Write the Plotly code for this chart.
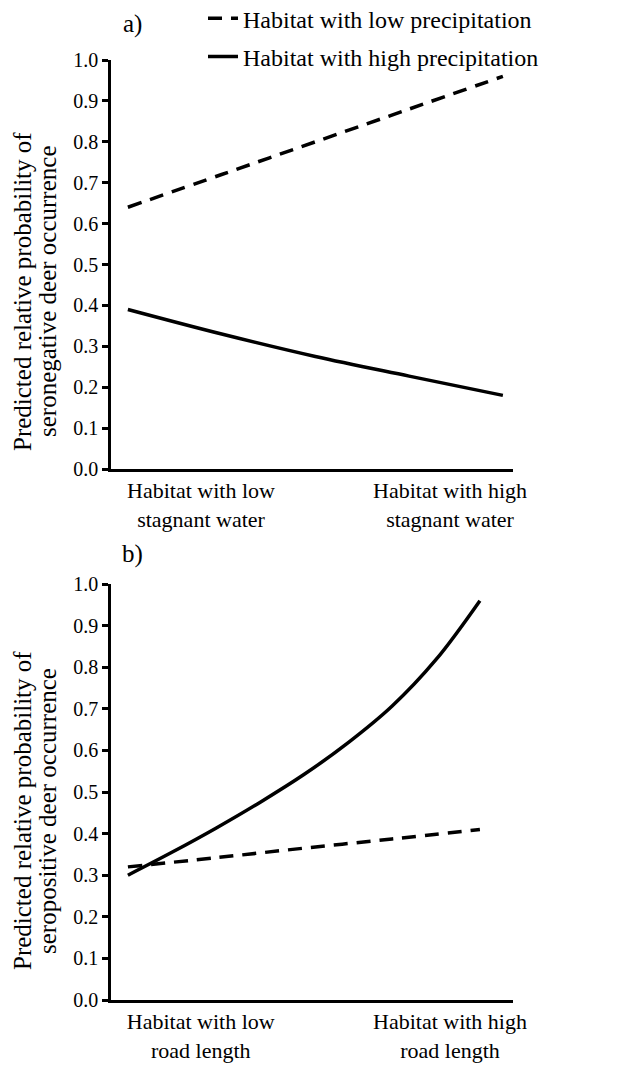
import plotly.graph_objects as go

# relative position along the habitat gradient (low -> high)
gradient = [0, 0.25, 0.5, 0.75, 1]
gradient_fine = [0, 0.125, 0.25, 0.375, 0.5, 0.625, 0.75, 0.875, 1]

# a) seronegative deer vs stagnant water
neg_low_precip = [0.64, 0.72, 0.80, 0.88, 0.96]
neg_high_precip = [0.39, 0.33, 0.275, 0.227, 0.18]

# b) seropositive deer vs road length
pos_low_precip = [0.32, 0.342, 0.365, 0.387, 0.41]
pos_high_precip = [0.30, 0.355, 0.413, 0.475, 0.542, 0.618, 0.706, 0.818, 0.96]

yticks = [0.0, 0.1, 0.2, 0.3, 0.4, 0.5, 0.6, 0.7, 0.8, 0.9, 1.0]
water_labels = ["Habitat with low<br>stagnant water", "Habitat with high<br>stagnant water"]
road_labels = ["Habitat with low<br>road length", "Habitat with high<br>road length"]
title_line1 = "Predicted relative probability of"
title_neg = "seronegative deer occurrence"
title_pos = "seropositive deer occurrence"

FONT = "Liberation Serif"
dash_style = "14px,9px"
H = 1074
W = 625

fig = go.Figure()
fig.add_trace(go.Scatter(x=gradient, y=neg_low_precip, mode="lines", line_shape="spline",
                         line=dict(color="black", width=3.5, dash=dash_style),
                         name="Habitat with low precipitation", legendgroup="low",
                         xaxis="x", yaxis="y"))
fig.add_trace(go.Scatter(x=gradient, y=neg_high_precip, mode="lines", line_shape="spline",
                         line=dict(color="black", width=3.5),
                         name="Habitat with high precipitation", legendgroup="high",
                         xaxis="x", yaxis="y"))
fig.add_trace(go.Scatter(x=gradient, y=pos_low_precip, mode="lines", line_shape="spline",
                         line=dict(color="black", width=3.5, dash=dash_style),
                         showlegend=False, xaxis="x2", yaxis="y2"))
fig.add_trace(go.Scatter(x=gradient_fine, y=pos_high_precip, mode="lines", line_shape="spline",
                         line=dict(color="black", width=3.5),
                         showlegend=False, xaxis="x2", yaxis="y2"))

xaxis_common = dict(showline=True, linecolor="black", linewidth=2.5,
                    showgrid=False, zeroline=False, ticks="",
                    tickfont=dict(family=FONT, size=22, color="black"))
yaxis_common = dict(range=[0, 1.0], showline=True, linecolor="black", linewidth=2.5,
                    showgrid=False, zeroline=False, ticks="outside", ticklen=6,
                    tickwidth=2.5, tickcolor="black", tickvals=yticks, tickformat=".1f",
                    tickfont=dict(family=FONT, size=20, color="black"))


def ytitle(text, x, y):
    return dict(text=text, x=x / W, y=1 - y / H, xref="paper", yref="paper",
                showarrow=False, textangle=-90, xanchor="center", yanchor="middle",
                font=dict(family=FONT, size=25, color="black"))


def panel_label(text, y):
    return dict(text=text, x=124 / W, y=1 - y / H, xref="paper", yref="paper", showarrow=False,
                font=dict(family=FONT, size=25, color="black"), xanchor="center", yanchor="middle")


fig.update_layout(
    width=W, height=H,
    margin=dict(l=0, r=0, t=0, b=0, autoexpand=False),
    plot_bgcolor="white", paper_bgcolor="white",
    font=dict(family=FONT, color="black"),
    xaxis=dict(xaxis_common, domain=[103 / W, 505 / W], anchor="y", range=[-0.045, 1.027],
               tickvals=[0.195, 0.859], ticktext=water_labels),
    yaxis=dict(yaxis_common, domain=[1 - 461 / H, 1 - 52 / H], anchor="x"),
    xaxis2=dict(xaxis_common, domain=[103 / W, 505 / W], anchor="y2", range=[-0.048, 1.094],
                tickvals=[0.207, 0.915], ticktext=road_labels),
    yaxis2=dict(yaxis_common, domain=[1 - 992 / H, 1 - 576 / H], anchor="x2"),
    legend=dict(x=0.312, y=1.011, xanchor="left", yanchor="top",
                font=dict(family=FONT, size=24, color="black"),
                bgcolor="rgba(0,0,0,0)", tracegroupgap=4, itemwidth=30),
    showlegend=True,
    annotations=[
        panel_label("a)", 16),
        panel_label("b)", 546),
        ytitle(title_line1, 14, 284),
        ytitle(title_neg, 39, 284),
        ytitle(title_line1, 14, 803),
        ytitle(title_pos, 39, 803),
    ],
)

fig.write_html("out.html")
